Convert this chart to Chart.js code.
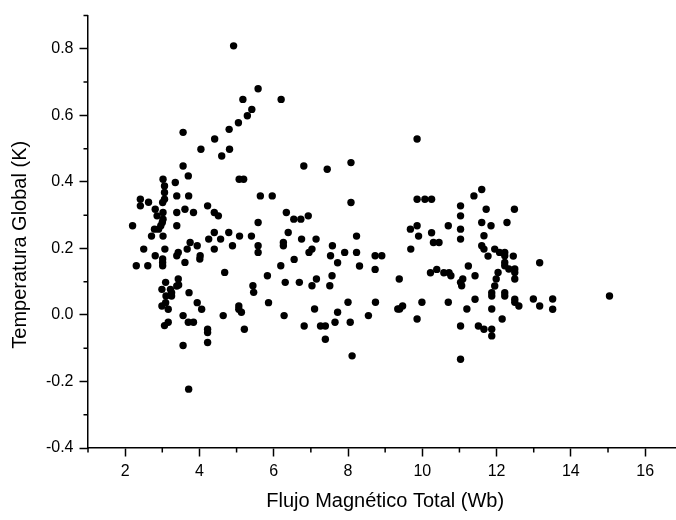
<!DOCTYPE html>
<html>
<head>
<meta charset="utf-8">
<script src="https://cdn.jsdelivr.net/npm/chart.js@4.4.0/dist/chart.umd.min.js"></script>
<style>
  html, body { margin: 0; padding: 0; background: #fff; overflow: hidden; }
  #wrap { width: 686px; height: 520px; }
</style>
</head>
<body>
<div id="wrap"><canvas id="scatterChart" width="686" height="520"></canvas></div>
<script>
// Flujo magnético total (Wb) vs temperatura global (K)
const flujo = [
  4.92, 5.58, 5.17, 6.20, 5.41, 5.29, 5.05, 4.80, 3.56, 4.41, 4.04, 4.81, 4.60, 3.56, 3.70, 3.02,
  3.35, 5.07, 5.19, 3.06, 3.06, 3.39, 3.71, 5.64, 5.96, 2.41, 2.63, 3.06, 3.01, 2.41, 4.22, 2.81,
  3.61, 3.02, 3.39, 3.84, 4.40, 4.51, 6.34, 2.86, 3.02, 3.00, 2.20, 3.39, 2.96, 2.79, 2.90, 5.58,
  4.40, 4.79, 6.39, 2.71, 3.02, 4.25, 4.57, 5.08, 5.40, 3.75, 3.94, 4.89, 5.58, 5.58, 6.26, 6.26,
  2.50, 3.07, 3.67, 4.40, 3.43, 3.39, 2.81, 4.02, 4.01, 3.01, 3.01, 3.01, 2.30, 2.61, 3.61, 6.19,
  4.68, 5.83, 6.31, 3.09, 3.43, 5.44, 5.46, 2.99, 3.22, 3.25, 3.39, 3.44, 3.72, 3.10, 3.25, 3.09,
  2.99, 3.94, 4.06, 3.16, 5.06, 5.06, 5.13, 5.86, 3.56, 3.70, 3.84, 3.16, 3.06, 4.64, 6.28, 5.21,
  4.22, 4.22, 4.22, 3.56, 3.71,
  9.86, 6.81, 7.44, 8.08, 8.08, 9.86, 10.07, 10.25, 11.39, 11.03, 6.54, 6.73, 6.93, 11.03, 9.68, 9.86,
  11.03, 10.70, 10.25, 9.90, 11.03, 8.23, 6.75, 7.14, 7.58, 10.30, 10.45, 9.69, 7.03, 6.95, 7.91, 8.23,
  7.53, 8.73, 8.91, 6.55, 7.72, 8.31, 8.73, 11.24, 10.22, 10.39, 10.58, 10.72, 10.77, 11.42, 7.57, 6.69,
  7.15, 7.03, 7.51, 9.38, 11.09, 11.03, 11.06, 8.00, 8.74, 9.99, 10.70, 11.42, 7.10, 7.72, 9.34, 9.39,
  9.47, 11.20, 8.55, 9.86, 6.82, 7.26, 7.39, 7.65, 8.06, 11.03, 11.51, 7.39, 8.11, 11.03,
  11.60, 11.72, 12.48, 11.60, 11.85, 12.28, 11.66, 11.60, 11.66, 11.95, 12.08, 12.22, 12.22, 11.77, 12.45, 13.16,
  12.22, 12.22, 12.33, 12.49, 12.49, 12.49, 12.04, 11.99, 11.95, 11.87, 11.87, 12.22, 12.22, 12.49, 12.49, 12.60,
  12.99, 13.51, 13.16, 13.51, 11.87, 15.04, 12.15, 11.66, 11.87, 11.87
];
const temperatura = [
  0.809, 0.680, 0.648, 0.648, 0.618, 0.599, 0.578, 0.558, 0.549, 0.529, 0.498, 0.498, 0.478, 0.448, 0.418, 0.408,
  0.398, 0.408, 0.408, 0.388, 0.368, 0.358, 0.358, 0.358, 0.358, 0.348, 0.339, 0.348, 0.338, 0.328, 0.328, 0.318,
  0.318, 0.308, 0.308, 0.308, 0.308, 0.298, 0.308, 0.298, 0.288, 0.278, 0.268, 0.268, 0.268, 0.258, 0.258, 0.278,
  0.248, 0.248, 0.248, 0.237, 0.237, 0.228, 0.228, 0.237, 0.237, 0.218, 0.208, 0.208, 0.208, 0.188, 0.218, 0.208,
  0.198, 0.198, 0.198, 0.198, 0.188, 0.178, 0.178, 0.178, 0.168, 0.168, 0.158, 0.148, 0.148, 0.148, 0.158, 0.148,
  0.128, 0.118, 0.098, 0.098, 0.108, 0.088, 0.068, 0.077, 0.077, 0.067, 0.087, 0.090, 0.067, 0.057, 0.057, 0.037,
  0.027, 0.037, 0.017, 0.017, 0.027, 0.017, 0.008, 0.037, -0.002, -0.022, -0.022, -0.022, -0.032, -0.002, -0.002, -0.043,
  -0.043, -0.053, -0.083, -0.092, -0.223,
  0.529, 0.448, 0.438, 0.458, 0.338, 0.348, 0.348, 0.348, 0.358, 0.328, 0.288, 0.288, 0.298, 0.298, 0.258, 0.268,
  0.258, 0.268, 0.247, 0.237, 0.228, 0.237, 0.228, 0.228, 0.208, 0.218, 0.218, 0.198, 0.198, 0.188, 0.188, 0.188,
  0.178, 0.178, 0.178, 0.167, 0.157, 0.147, 0.137, 0.147, 0.127, 0.137, 0.127, 0.127, 0.118, 0.118, 0.118, 0.098,
  0.108, 0.088, 0.088, 0.108, 0.108, 0.098, 0.088, 0.038, 0.038, 0.038, 0.038, 0.047, 0.018, 0.008, 0.018, 0.018,
  0.027, 0.018, -0.002, -0.012, -0.033, -0.033, -0.033, -0.022, -0.022, -0.033, -0.033, -0.073, -0.123, -0.133,
  0.377, 0.318, 0.318, 0.278, 0.268, 0.278, 0.238, 0.208, 0.198, 0.198, 0.188, 0.188, 0.178, 0.177, 0.177, 0.157,
  0.158, 0.148, 0.138, 0.138, 0.128, 0.108, 0.128, 0.108, 0.087, 0.067, 0.057, 0.067, 0.057, 0.047, 0.038, 0.027,
  0.048, 0.048, 0.027, 0.017, 0.018, 0.057, -0.012, -0.043, -0.043, -0.063
];

// tick positions
const xMajor = [2, 4, 6, 8, 10, 12, 14, 16];
const xMinor = [1, 3, 5, 7, 9, 11, 13, 15];
const yMajor = [-0.4, -0.2, 0.0, 0.2, 0.4, 0.6, 0.8];
const yMinor = [-0.3, -0.1, 0.1, 0.3, 0.5, 0.7, 0.9];

const yTitle = 'Temperatura Global (K)';
const fontFamily = 'Arial, "Liberation Sans", Helvetica, sans-serif';

const points = flujo.map((x, i) => ({ x: x, y: temperatura[i] }));

// short outside ticks between the labelled ones, plus the y title
// (the original places the y title a bit below the centre of the axis)
const extras = {
  id: 'extras',
  afterDraw(chart) {
    const ctx = chart.ctx;
    const xs = chart.scales.x, ys = chart.scales.y;
    const area = chart.chartArea;
    ctx.save();
    ctx.strokeStyle = '#000';
    ctx.lineWidth = 1.5;
    ctx.beginPath();
    xMinor.forEach(v => {
      const px = xs.getPixelForValue(v);
      ctx.moveTo(px, area.bottom);
      ctx.lineTo(px, area.bottom + 4.5);
    });
    yMinor.forEach(v => {
      const py = ys.getPixelForValue(v);
      ctx.moveTo(area.left, py);
      ctx.lineTo(area.left - 4.5, py);
    });
    ctx.stroke();

    ctx.translate(20, (area.top + area.bottom) / 2 + 13);
    ctx.rotate(-Math.PI / 2);
    ctx.fillStyle = '#000';
    ctx.font = '20px ' + fontFamily;
    ctx.textAlign = 'center';
    ctx.textBaseline = 'middle';
    ctx.fillText(yTitle, 0, 0);
    ctx.restore();
  }
};

const ctx = document.getElementById('scatterChart').getContext('2d');
const scatterChart = new Chart(ctx, {
  type: 'scatter',
  data: {
    datasets: [{
      data: points,
      backgroundColor: '#000',
      borderWidth: 0,
      pointRadius: 3.7,
      pointHoverRadius: 3.7
    }]
  },
  options: {
    responsive: false,
    animation: false,
    layout: { padding: { top: 10, right: 2, left: 0, bottom: 0 } },
    plugins: {
      legend: { display: false },
      tooltip: { enabled: false }
    },
    scales: {
      x: {
        type: 'linear',
        min: 1,
        max: 17,
        afterFit(scale) { scale.height = 72; },
        afterBuildTicks(scale) { scale.ticks = xMajor.map(v => ({ value: v })); },
        border: { display: true, color: '#000', width: 1.5 },
        grid: { drawOnChartArea: false, drawTicks: true, tickLength: 8.5, tickColor: '#000', tickWidth: 1.5 },
        ticks: {
          color: '#000',
          padding: 5,
          font: { family: fontFamily, size: 16 },
          callback: v => String(v)
        },
        title: {
          display: true,
          text: 'Flujo Magnético Total (Wb)',
          color: '#000',
          font: { family: fontFamily, size: 20 },
          padding: { top: 0, bottom: 7 }
        }
      },
      y: {
        type: 'linear',
        min: -0.4,
        max: 0.9,
        afterFit(scale) { scale.width = 88; },
        afterBuildTicks(scale) { scale.ticks = yMajor.map(v => ({ value: v })); },
        border: { display: true, color: '#000', width: 1.5 },
        grid: { drawOnChartArea: false, drawTicks: true, tickLength: 8.5, tickColor: '#000', tickWidth: 1.5 },
        ticks: {
          color: '#000',
          padding: 6,
          font: { family: fontFamily, size: 16 },
          callback: v => Number(v).toFixed(1)
        },
        title: { display: false }
      }
    }
  },
  plugins: [extras]
});
</script>
</body>
</html>
